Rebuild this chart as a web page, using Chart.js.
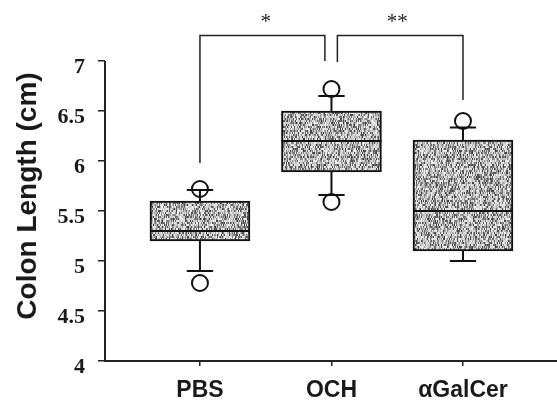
<!DOCTYPE html>
<html lang="en">
<head>
    <meta charset="UTF-8">
    <title>Colon Length</title>
    <script src="https://cdn.jsdelivr.net/npm/chart.js"></script>
    <style>
        body { margin: 0; background: #fff; }
        #wrap { width: 557px; height: 401px; }
    </style>
</head>
<body>
<div id="wrap">
    <canvas id="colonChart" width="557" height="401"></canvas>
</div>

<script>
    // Groups and box-plot values (cm)
    const categories = ['PBS', 'OCH', '\u03b1GalCer'];
    const positions = [1, 2, 3];
    const q1 = [5.2, 5.89, 5.1];
    const median = [5.3, 6.2, 5.5];
    const q3 = [5.6, 6.5, 6.21];
    const whiskerLow = [4.9, 5.66, 5.0];
    const whiskerHigh = [5.71, 6.65, 6.335];
    const outliers = [[4.78, 5.72], [5.59, 6.72], [6.4]];

    // y axis ticks
    const yTicks = [4, 4.5, 5, 5.5, 6, 6.5, 7];
    const yTickLabels = ['4', '4.5', '5', '5.5', '6', '6.5', '7'];

    // significance brackets
    const bracketLeft = [[1, 5.98], [1, 7.256], [1.95, 7.256], [1.95, 7.0]];
    const bracketRight = [[2.045, 6.99], [2.045, 7.256], [3, 7.256], [3, 6.61]];
    const stars = [[1.5, '*'], [2.5, '**']];
    const starLevel = 7.39;

    // grey speckled fill like the printed boxes (fixed seed, texture only)
    function makeTexture() {
        const off = document.createElement('canvas');
        off.width = 96; off.height = 96;
        const octx = off.getContext('2d');
        let seed = 20240611;
        for (let y = 0; y < 96; y += 2) {
            for (let x = 0; x < 96; x++) {
                seed = (seed * 1103515245 + 12345) & 0x7fffffff;
                const h = seed / 2147483648;
                const g = Math.round(h < 0.45 ? 60 + h * 260 : 185 + (h - 0.45) * 110);
                octx.fillStyle = 'rgb(' + g + ',' + g + ',' + g + ')';
                octx.fillRect(x, y, 1, 2);
            }
        }
        return octx.createPattern(off, 'repeat');
    }

    const halfBox = 0.38;
    const halfCap = 0.1;

    const boxes = positions.map((x, i) => ({ x: x, y: [q1[i], q3[i]] }));

    const whiskerPts = [];
    const medianPts = [];
    positions.forEach((x, i) => {
        whiskerPts.push({ x: x, y: q3[i] }, { x: x, y: whiskerHigh[i] }, { x: x, y: null });
        whiskerPts.push({ x: x, y: q1[i] }, { x: x, y: whiskerLow[i] }, { x: x, y: null });
        whiskerPts.push({ x: x - halfCap, y: whiskerHigh[i] }, { x: x + halfCap, y: whiskerHigh[i] }, { x: x, y: null });
        whiskerPts.push({ x: x - halfCap, y: whiskerLow[i] }, { x: x + halfCap, y: whiskerLow[i] }, { x: x, y: null });
        medianPts.push({ x: x - halfBox, y: median[i] }, { x: x + halfBox, y: median[i] }, { x: x, y: null });
    });

    const outlierPts = [];
    positions.forEach((x, i) => {
        outliers[i].forEach(v => outlierPts.push({ x: x, y: v }));
    });

    const toPts = arr => arr.map(p => ({ x: p[0], y: p[1] }));

    const extras = {
        id: 'extras',
        afterDraw(chart) {
            const ctx = chart.ctx;
            const xs = chart.scales.x;
            const ys = chart.scales.y;
            const left = chart.chartArea.left;
            ctx.save();
            // y axis line only from 4 to 7
            ctx.strokeStyle = '#222';
            ctx.lineWidth = 2;
            ctx.beginPath();
            ctx.moveTo(left, ys.getPixelForValue(yTicks[yTicks.length - 1]));
            ctx.lineTo(left, ys.getPixelForValue(yTicks[0]) + 1);
            ctx.stroke();
            // stars
            ctx.fillStyle = '#222';
            ctx.font = '21px "Liberation Serif"';
            ctx.textAlign = 'center';
            ctx.textBaseline = 'middle';
            stars.forEach(s => {
                ctx.fillText(s[1], xs.getPixelForValue(s[0]), ys.getPixelForValue(starLevel));
            });
            ctx.restore();
        }
    };

    const ctx = document.getElementById('colonChart').getContext('2d');
    const colonChart = new Chart(ctx, {
        type: 'bar',
        data: {
            datasets: [
                {
                    type: 'bar',
                    data: boxes,
                    backgroundColor: makeTexture(),
                    borderColor: '#111',
                    borderWidth: 2,
                    borderSkipped: false,
                    barThickness: 100,
                    order: 3
                },
                {
                    type: 'line',
                    data: whiskerPts,
                    borderColor: '#111',
                    borderWidth: 2,
                    pointRadius: 0,
                    spanGaps: false,
                    order: 2
                },
                {
                    type: 'line',
                    data: medianPts,
                    borderColor: '#111',
                    borderWidth: 2,
                    pointRadius: 0,
                    spanGaps: false,
                    order: 1
                },
                {
                    type: 'scatter',
                    data: outlierPts,
                    pointStyle: 'circle',
                    pointRadius: 8,
                    pointBorderWidth: 2,
                    pointBorderColor: '#111',
                    pointBackgroundColor: 'rgba(0,0,0,0)',
                    order: 0
                },
                {
                    type: 'line',
                    data: toPts(bracketLeft),
                    borderColor: '#222',
                    borderWidth: 1.5,
                    pointRadius: 0,
                    order: 0
                },
                {
                    type: 'line',
                    data: toPts(bracketRight),
                    borderColor: '#222',
                    borderWidth: 1.5,
                    pointRadius: 0,
                    order: 0
                }
            ]
        },
        options: {
            responsive: false,
            animation: false,
            layout: { autoPadding: false, padding: { top: 31, left: 0, right: 0, bottom: 0 } },
            plugins: {
                legend: { display: false },
                tooltip: { enabled: false }
            },
            scales: {
                x: {
                    type: 'linear',
                    min: 0.278,
                    max: 3.715,
                    offset: false,
                    afterBuildTicks: scale => {
                        scale.ticks = positions.map(v => ({ value: v }));
                    },
                    afterFit: scale => {
                        scale.height = 40;
                        scale.paddingLeft = 0;
                        scale.paddingRight = 0;
                    },
                    ticks: {
                        autoSkip: false,
                        maxRotation: 0,
                        padding: 13,
                        color: '#1a1a1a',
                        font: { family: '"Liberation Sans", Arial, sans-serif', size: 23, weight: 'bold', lineHeight: 1.0 },
                        callback: value => categories[Math.round(value) - 1]
                    },
                    grid: { offset: false, drawOnChartArea: false, tickLength: 5, color: '#222', lineWidth: 1.5 },
                    border: { color: '#222', width: 2 }
                },
                y: {
                    min: 4,
                    max: 7.3,
                    afterBuildTicks: scale => {
                        scale.ticks = yTicks.map(v => ({ value: v }));
                    },
                    afterFit: scale => { scale.width = 105; },
                    ticks: {
                        padding: 13,
                        labelOffset: 6,
                        color: '#1a1a1a',
                        font: { family: '"Liberation Serif", "Times New Roman", serif', size: 22, weight: 'bold' },
                        callback: value => yTickLabels[yTicks.indexOf(value)]
                    },
                    grid: { drawOnChartArea: false, tickLength: 7, color: '#222', lineWidth: 1.5 },
                    border: { display: false },
                    title: {
                        display: true,
                        text: 'Colon Length (cm)',
                        color: '#1a1a1a',
                        padding: { top: 11, bottom: 1 },
                        font: { family: '"Liberation Sans", Arial, sans-serif', size: 28, weight: 'bold' }
                    }
                }
            }
        },
        plugins: [extras]
    });
</script>
</body>
</html>
